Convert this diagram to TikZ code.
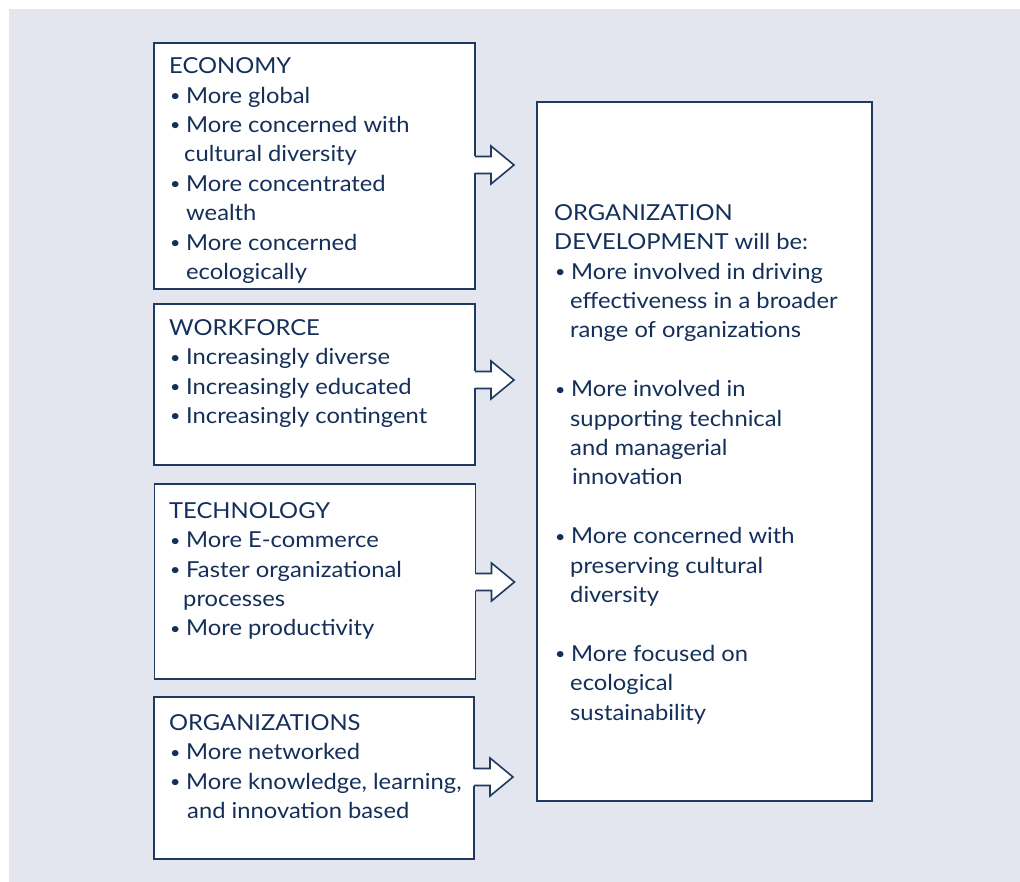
\documentclass[tikz,border=0pt]{standalone}
\usepackage{fontspec}
\setmainfont{Lato}[FakeStretch=1.08]
\usetikzlibrary{calc}
\definecolor{bgc}{HTML}{E3E6EF}
\definecolor{edgec}{HTML}{1E3A5F}
\definecolor{txtc}{HTML}{14305A}
\newcommand\itm[1]{\makebox[17pt][l]{\hspace{1pt}\raisebox{1.5pt}{\scalebox{0.75}{\textbullet}}}#1}
\newcommand\cnt[2]{\hspace*{#1pt}#2}
\newcommand\odarrow[2]{%
  \coordinate (#1s) at (#1.east |- 0,#2);
  \fill[white] ($(#1s)+(-3,-8.5)$) rectangle ($(#1s)+(16,8.5)$);
  \draw[arrline] ($(#1s)+(0,-8.5)$) -- ++(16,0) -- ++(0,-10.5) -- ($(#1s)+(39,0)$)
    -- ($(#1s)+(16,19)$) -- ++(0,-10.5) -- ++(-16,0);
}
\begin{document}
\begin{tikzpicture}[x=1pt,y=-1pt,
  box/.style={draw=edgec,line width=1.6pt,fill=white,anchor=north west,inner sep=0pt,outer sep=0pt},
  txt/.style={anchor=north west,inner sep=0pt,align=left,text=txtc,font=\fontsize{22}{29.4}\selectfont},
  arrline/.style={draw=edgec,line width=1.6pt,fill=white,line join=miter}]
\useasboundingbox (0,0) rectangle (1020,882);
\fill[bgc] (9,9) rectangle (1020,882);
% boxes
\node[box,minimum width=321pt,minimum height=246pt] (eco) at (154,43) {};
\node[box,minimum width=321pt,minimum height=161pt] (wf) at (154,304) {};
\node[box,minimum width=321pt,minimum height=195pt] (tech) at (154.5,484) {};
\node[box,minimum width=320pt,minimum height=162pt] (org) at (154,697) {};
\node[box,minimum width=335pt,minimum height=699pt] (od) at (537,102) {};
% arrows
\odarrow{eco}{165}
\odarrow{wf}{380}
\odarrow{tech}{582}
\odarrow{org}{777}
% texts
\node[txt] (ecot) at (169,53.5) {\rule{0pt}{20pt}ECONOMY\\
\itm{More global}\\
\itm{More concerned with}\\
\cnt{15}{cultural diversity}\\
\itm{More concentrated}\\
\cnt{17}{wealth}\\
\itm{More concerned}\\
\cnt{17}{ecologically}};
\node[txt] (wft) at (169,315) {\rule{0pt}{20pt}WORKFORCE\\
\itm{Increasingly diverse}\\
\itm{Increasingly educated}\\
\itm{Increasingly contingent}};
\node[txt] (techt) at (169,498) {\rule{0pt}{20pt}TECHNOLOGY\\
\itm{More E-commerce}\\
\itm{Faster organizational}\\
\cnt{14}{processes}\\
\itm{More productivity}};
\node[txt] (orgt) at (169,710) {\rule{0pt}{20pt}ORGANIZATIONS\\
\itm{More networked}\\
\itm{More knowledge, learning,}\\
\cnt{18}{and innovation based}};
\node[txt] (odt) at (554,200) {\rule{0pt}{20pt}ORGANIZATION\\
DEVELOPMENT will be:\\
\itm{More involved in driving}\\
\cnt{16}{effectiveness in a broader}\\
\cnt{16}{range of organizations}\\[29.4pt]
\itm{More involved in}\\
\cnt{16}{supporting technical}\\
\cnt{16}{and managerial}\\
\cnt{18}{innovation}\\[29.4pt]
\itm{More concerned with}\\
\cnt{16}{preserving cultural}\\
\cnt{16}{diversity}\\[29.4pt]
\itm{More focused on}\\
\cnt{16}{ecological}\\
\cnt{16}{sustainability}};
\end{tikzpicture}
\end{document}
